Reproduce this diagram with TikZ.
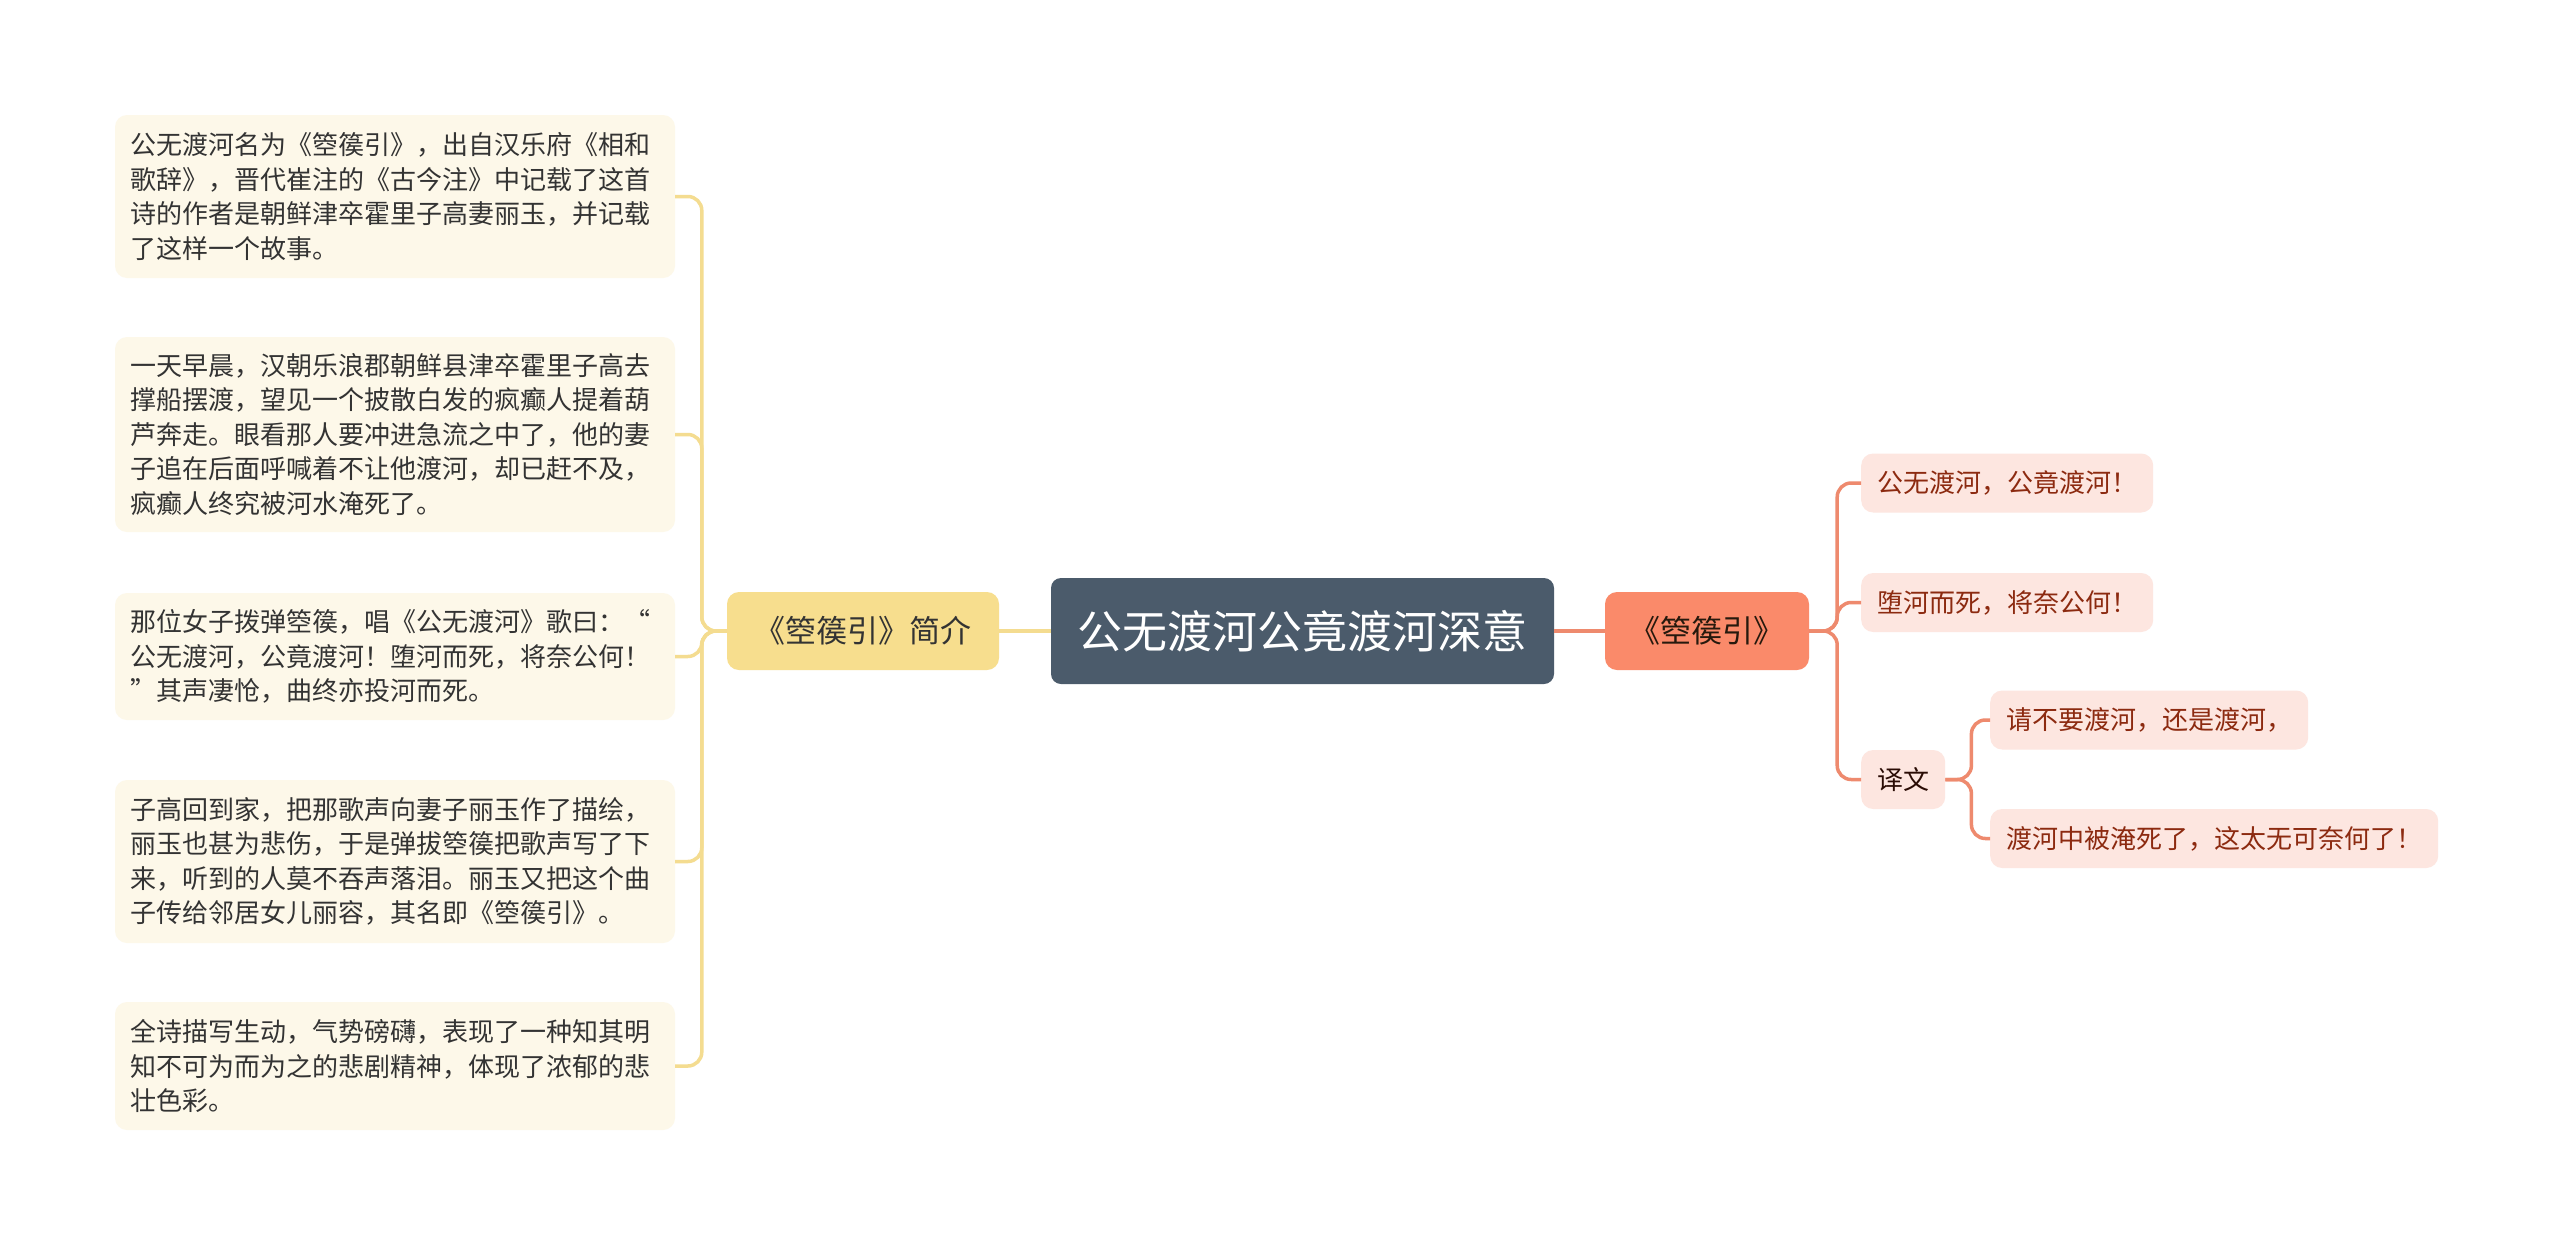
\documentclass[tikz,border=0pt]{standalone}
\usepackage{fontspec}
\setmainfont{Noto Sans CJK SC}

\definecolor{creambg}{HTML}{FDF8E9}
\definecolor{yellowln}{HTML}{F4DC90}
\definecolor{yellowbg}{HTML}{F7DE8E}
\definecolor{slatebg}{HTML}{4B5B6B}
\definecolor{coralln}{HTML}{EE8A6E}
\definecolor{coralbg}{HTML}{FA8A6A}
\definecolor{pinkbg}{HTML}{FDE6E0}
\definecolor{leaftext}{HTML}{8C2A10}
\definecolor{notetext}{HTML}{333333}

\tikzset{
  notebox/.style={fill=creambg, rounded corners=12pt, text width=530pt, align=left,
    inner xsep=15pt, inner ysep=0pt, text=notetext, font=\fontsize{26}{34.5}\selectfont},
  introbox/.style={fill=yellowbg, rounded corners=12pt, minimum width=272pt, minimum height=78pt,
    text=notetext, font=\fontsize{31}{36}\selectfont},
  rootbox/.style={fill=slatebg, rounded corners=10pt, minimum width=503pt, minimum height=106pt,
    text=white, font=\fontsize{45}{52}\selectfont},
  poembox/.style={fill=coralbg, rounded corners=12pt, minimum width=204pt, minimum height=78pt,
    text=black!80!brown, font=\fontsize{31}{36}\selectfont},
  leafbox/.style={fill=pinkbg, rounded corners=12pt, anchor=west, minimum height=59pt,
    inner xsep=16pt, text=leaftext, font=\fontsize{26}{30}\selectfont},
  yline/.style={draw=yellowln, line width=3.5pt, rounded corners=14pt},
  oline/.style={draw=coralln, line width=3.5pt, rounded corners=14pt}
}

\begin{document}
\begin{tikzpicture}[x=1pt, y=-1pt]
    \useasboundingbox[fill=white] (0,0) rectangle (2560,1245);

    % left notes
    \node[notebox, minimum height=163pt] (note1) at (395,196.5) {公无渡河名为《箜篌引》，出自汉乐府《相和\\歌辞》，晋代崔注的《古今注》中记载了这首\\诗的作者是朝鲜津卒霍里子高妻丽玉，并记载\\了这样一个故事。};
    \node[notebox, minimum height=195pt] (note2) at (395,434.5) {一天早晨，汉朝乐浪郡朝鲜县津卒霍里子高去\\撑船摆渡，望见一个披散白发的疯癫人提着葫\\芦奔走。眼看那人要冲进急流之中了，他的妻\\子追在后面呼喊着不让他渡河，却已赶不及，\\疯癫人终究被河水淹死了。};
    \node[notebox, minimum height=127pt] (note3) at (395,656.5) {那位女子拨弹箜篌，唱《公无渡河》歌曰：“\\公无渡河，公竟渡河！堕河而死，将奈公何！\\”其声凄怆，曲终亦投河而死。};
    \node[notebox, minimum height=163pt] (note4) at (395,861.5) {子高回到家，把那歌声向妻子丽玉作了描绘，\\丽玉也甚为悲伤，于是弹拔箜篌把歌声写了下\\来，听到的人莫不吞声落泪。丽玉又把这个曲\\子传给邻居女儿丽容，其名即《箜篌引》。};
    \node[notebox, minimum height=128pt] (note5) at (395,1066) {全诗描写生动，气势磅礴，表现了一种知其明\\知不可为而为之的悲剧精神，体现了浓郁的悲\\壮色彩。};

    % centre
    \node[introbox] (intro) at (863,631) {《箜篌引》简介};
    \node[rootbox] (root) at (1302.5,631) {公无渡河公竟渡河深意};
    \node[poembox] (poem) at (1707,631) {《箜篌引》};

    % right leaves
    \node[leafbox] (line1) at (1861,483) {公无渡河，公竟渡河！};
    \node[leafbox] (line2) at (1861,602.5) {堕河而死，将奈公何！};
    \node[leafbox, text=black!70!leaftext] (trans) at (1861,779.5) {译文};
    \node[leafbox] (trans1) at (1990,720) {请不要渡河，还是渡河，};
    \node[leafbox] (trans2) at (1990,838.5) {渡河中被淹死了，这太无可奈何了！};

    % connectors
    \draw[yline] (root.west) -- (intro.east);
    \foreach \i in {1,...,5}
      \draw[yline] (intro.west) -- ++(-25,0) |- (note\i.east);
    \draw[oline] (root.east) -- (poem.west);
    \foreach \n in {line1,line2,trans}
      \draw[oline] (poem.east) -- ++(28,0) |- (\n.west);
    \foreach \n in {trans1,trans2}
      \draw[oline] (trans.east) -- ++(26,0) |- (\n.west);
  \end{tikzpicture}
\end{document}
